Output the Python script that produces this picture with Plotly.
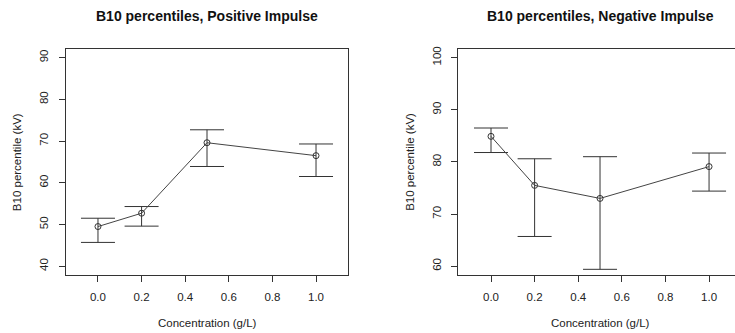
import plotly.graph_objects as go

# ---- data ----
conc = [0.0, 0.2, 0.5, 1.0]
pos_b10 = [49.5, 52.7, 69.6, 66.5]
pos_upper = [51.5, 54.3, 72.7, 69.3]
pos_lower = [45.7, 49.6, 63.9, 61.5]
neg_b10 = [84.9, 75.5, 73.0, 79.1]
neg_upper = [86.5, 80.6, 81.0, 81.7]
neg_lower = [81.8, 65.7, 59.4, 74.4]
x_ticks = [0.0, 0.2, 0.4, 0.6, 0.8, 1.0]
x_ticklabels = ["0.0", "0.2", "0.4", "0.6", "0.8", "1.0"]
pos_yticks = [40, 50, 60, 70, 80, 90]
neg_yticks = [60, 70, 80, 90, 100]
titles = ["B10 percentiles, Positive Impulse", "B10 percentiles, Negative Impulse"]
x_title = "Concentration (g/L)"
y_title = "B10 percentile (kV)"

W, H = 735, 333
FONT = "Liberation Sans, Arial, sans-serif"
INK = "#222222"

def px_x(p):
    return p / W

def px_y(p):
    return 1 - p / H

fig = go.Figure()

def add_series(y, up, lo, xa, ya):
    fig.add_trace(go.Scatter(
        x=conc, y=y, xaxis=xa, yaxis=ya, mode="lines+markers",
        line=dict(color="#444444", width=1),
        marker=dict(symbol="circle-open", size=6, color="#333333", line=dict(width=1)),
        error_y=dict(type="data", symmetric=False,
                     array=[u - v for u, v in zip(up, y)],
                     arrayminus=[v - l for v, l in zip(y, lo)],
                     color="#333333", thickness=1, width=17),
        showlegend=False, hoverinfo="x+y",
    ))

add_series(pos_b10, pos_upper, pos_lower, "x", "y")
add_series(neg_b10, neg_upper, neg_lower, "x2", "y2")

left_box = (65.7, 348.3)
right_box = (458.3, 735.0)
top, bottom = 46.7, 274.0

axis_common = dict(showgrid=False, zeroline=False, showline=True, linecolor="#333333",
                   linewidth=1, ticks="outside", ticklen=6, tickcolor="#333333",
                   tickfont=dict(family=FONT, size=11.5, color=INK))

fig.update_layout(
    width=W, height=H, margin=dict(l=0, r=0, t=0, b=0),
    paper_bgcolor="white", plot_bgcolor="white",
    xaxis=dict(domain=[px_x(left_box[0]), px_x(left_box[1])], range=[-0.148, 1.148],
               tickvals=x_ticks, ticktext=x_ticklabels, mirror=True, anchor="y",
               ticklabelstandoff=6, **axis_common),
    yaxis=dict(domain=[px_y(bottom), px_y(top)], range=[38, 92], tickvals=pos_yticks,
               tickangle=-90, mirror=True, anchor="x", ticklabelstandoff=6, **axis_common),
    xaxis2=dict(domain=[px_x(right_box[0]), 1.0], range=[-0.150, 1.119],
                tickvals=x_ticks, ticktext=x_ticklabels, mirror=True, anchor="y2",
                ticklabelstandoff=6, **axis_common),
    yaxis2=dict(domain=[px_y(bottom), px_y(top)], range=[58.4, 101.6], tickvals=neg_yticks,
                tickangle=-90, mirror=False, anchor="x2", ticklabelstandoff=6, **axis_common),
)

ann = []
for t, cx in zip(titles, [207.0, 600.0]):
    ann.append(dict(text="<b>%s</b>" % t, x=px_x(cx), y=px_y(13.3), xref="paper", yref="paper",
                    xanchor="center", yanchor="middle", showarrow=False,
                    font=dict(family=FONT, size=14, color="#111111")))
for cx in [207.0, 600.0]:
    ann.append(dict(text=x_title, x=px_x(cx), y=px_y(322.7), xref="paper", yref="paper",
                    xanchor="center", yanchor="middle", showarrow=False,
                    font=dict(family=FONT, size=11.5, color=INK)))
for cx in [17.3, 410.0]:
    ann.append(dict(text=y_title, x=px_x(cx), y=px_y(160.3), xref="paper", yref="paper",
                    xanchor="center", yanchor="middle", showarrow=False, textangle=-90,
                    font=dict(family=FONT, size=11.5, color=INK)))
fig.update_layout(annotations=ann)

fig.write_html("out.html", config={"displayModeBar": False},
               post_script="document.body.style.margin='0';document.body.style.overflow='hidden';")
